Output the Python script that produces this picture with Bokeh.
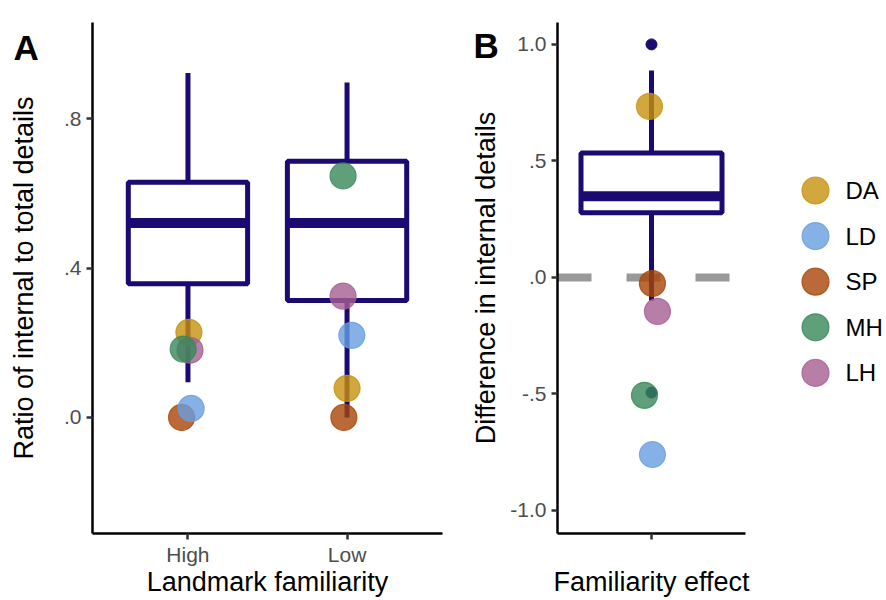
import math
from bokeh.plotting import figure
from bokeh.models import Range1d, FixedTicker, Span, ColumnDataSource, CustomJSTickFormatter
from bokeh.layouts import row
from bokeh.embed import file_html
from bokeh.resources import INLINE
from bokeh.core.properties import value

# ---------------- data ----------------
subjects = ["DA", "LD", "SP", "MH", "LH"]
subject_colors = ["#C7910E", "#689DE0", "#A74506", "#378859", "#A55E92"]
draw_order = ["DA", "LH", "SP", "LD", "MH"]

familiarity = ["High", "Low"]
ratio_high = [0.228, 0.024, 0.000, 0.183, 0.180]
ratio_low = [0.078, 0.220, 0.000, 0.647, 0.325]
jitter_high = [0.006, 0.020, -0.040, -0.030, 0.013]
jitter_low = [0.000, 0.030, -0.020, -0.025, -0.025]

box_whisker_lo = [0.094, 0.000]
box_q1 = [0.358, 0.313]
box_median = [0.521, 0.521]
box_q3 = [0.630, 0.686]
box_whisker_hi = [0.923, 0.897]

diff_values = [0.734, -0.760, -0.026, -0.506, -0.146]
jitter_diff = [-0.013, 0.006, 0.006, -0.045, 0.038]
diff_whisker_lo = [-0.100]
diff_q1 = [0.277]
diff_median = [0.348]
diff_q3 = [0.534]
diff_whisker_hi = [0.888]
diff_outliers = [1.000, -0.494]

ratio_ticks = [0.0, 0.4, 0.8]
diff_ticks = [-1.0, -0.5, 0.0, 0.5, 1.0]

panel_tags = ["A", "B"]
y_titles = ["Ratio of internal to total details", "Difference in internal details"]
x_titles = ["Landmark familiarity", "Familiarity effect"]

NAVY = "#1A0A72"
FONT = "Liberation Sans"
PT_ALPHA = 0.8
H = 600
TOP, BOTTOM = 22, 67          # frame spans page y 22 .. 533
FR_TOP, FR_BOT = TOP, H - BOTTOM

fmt = CustomJSTickFormatter(code="""
let s = tick.toFixed(1);
return s.replace(/^(-?)0\\./, '$1.');
""")


def style(p):
    p.outline_line_color = None
    p.xgrid.visible = False
    p.ygrid.visible = False
    p.background_fill_color = "white"
    p.border_fill_color = "white"
    for ax in (p.xaxis[0], p.yaxis[0]):
        ax.axis_line_color = "black"
        ax.axis_line_width = 2.5
        ax.major_tick_line_color = "#333333"
        ax.major_tick_line_width = 2.5
        ax.major_tick_out = 6
        ax.major_tick_in = 0
        ax.minor_tick_line_color = None
        ax.major_label_text_font = FONT
        ax.major_label_text_font_size = "21px"
        ax.major_label_text_color = "#4D4D4D"
        ax.major_label_standoff = 5
        ax.axis_label_text_font = FONT
        ax.axis_label_text_font_size = "27px"
        ax.axis_label_text_font_style = "normal"
        ax.axis_label_text_color = "black"
    p.xaxis[0].major_label_standoff = 3
    p.xaxis[0].axis_label_standoff = -2


def blank(width, x0):
    p = figure(width=width, height=H, x_range=Range1d(x0, x0 + width), y_range=Range1d(FR_BOT, FR_TOP),
               output_backend="svg", toolbar_location=None, x_axis_type=None, y_axis_type=None,
               min_border_left=0, min_border_right=0, min_border_top=TOP, min_border_bottom=BOTTOM)
    p.outline_line_color = None
    p.xgrid.visible = False
    p.ygrid.visible = False
    p.background_fill_color = "white"
    p.border_fill_color = "white"
    return p


def gutter(width, x0, tag, tag_x, tag_y, title, title_x):
    g = blank(width, x0)
    g.text(x=[tag_x], y=[tag_y], text=[tag], text_font=value(FONT), text_font_size=value("35px"),
           text_font_style="bold", text_baseline="alphabetic", text_align="left", text_color="black")
    g.text(x=[title_x], y=[(FR_TOP + FR_BOT) / 2], text=[title], angle=math.pi / 2,
           text_font=value(FONT), text_font_size=value("27px"), text_baseline="middle",
           text_align="center", text_color="black")
    return g


def draw_box(p, xs, lo, q1, med, q3, hi, width):
    src = ColumnDataSource(dict(
        x=xs, lo=lo, q1=q1, med=med, q3=q3, hi=hi,
        left=[x - width / 2 for x in xs], right=[x + width / 2 for x in xs]))
    p.segment(x0="x", y0="q3", x1="x", y1="hi", source=src, line_color=NAVY, line_width=5)
    p.segment(x0="x", y0="q1", x1="x", y1="lo", source=src, line_color=NAVY, line_width=5)
    p.quad(left="left", right="right", bottom="q1", top="q3", source=src,
           fill_color="white", line_color=NAVY, line_width=5)
    p.segment(x0="left", y0="med", x1="right", y1="med", source=src, line_color=NAVY, line_width=10)


def draw_points(p, xs, ys):
    idx = [subjects.index(s) for s in draw_order]
    src = ColumnDataSource(dict(
        x=[xs[i] for i in idx], y=[ys[i] for i in idx],
        c=[subject_colors[i] for i in idx]))
    p.scatter(x="x", y="y", source=src, size=26, fill_color="c", fill_alpha=PT_ALPHA,
              line_color="c", line_alpha=PT_ALPHA, line_width=1.2)


# ---------------- gutter A (tag + y title) ----------------
gA = gutter(46, 0, panel_tags[0], 13, 47, y_titles[0], 23)

# ---------------- panel A ----------------
pA = figure(width=416, height=H, x_range=Range1d(0.4, 2.6), y_range=Range1d(-0.311, 1.058),
            output_backend="svg", toolbar_location=None,
            min_border_left=46, min_border_right=20, min_border_top=TOP, min_border_bottom=BOTTOM)
style(pA)
cat_x = [i + 1 for i in range(len(familiarity))]
pA.xaxis.ticker = FixedTicker(ticks=cat_x)
pA.xaxis.major_label_overrides = {x: f for x, f in zip(cat_x, familiarity)}
pA.yaxis.ticker = FixedTicker(ticks=ratio_ticks)
pA.yaxis.formatter = fmt
pA.xaxis.axis_label = x_titles[0]

draw_box(pA, cat_x, box_whisker_lo, box_q1, box_median, box_q3, box_whisker_hi, 0.75)
draw_points(pA, [cat_x[0] + j for j in jitter_high], ratio_high)
draw_points(pA, [cat_x[1] + j for j in jitter_low], ratio_low)

# ---------------- gutter B ----------------
gB = gutter(43, 462, panel_tags[1], 473, 45, y_titles[1], 485)

# ---------------- panel B ----------------
pB = figure(width=245, height=H, x_range=Range1d(0.4, 1.6), y_range=Range1d(-1.099, 1.094),
            output_backend="svg", toolbar_location=None,
            min_border_left=52, min_border_right=5, min_border_top=TOP, min_border_bottom=BOTTOM)
style(pB)
pB.xaxis.ticker = FixedTicker(ticks=[1])
pB.xaxis.major_label_overrides = {1: " "}
pB.yaxis.ticker = FixedTicker(ticks=diff_ticks)
pB.yaxis.formatter = fmt
pB.xaxis.axis_label = x_titles[1]

pB.add_layout(Span(location=0, dimension="width", line_color="#999999", line_width=8,
                   line_dash="34 35", level="underlay"))
draw_box(pB, [1], diff_whisker_lo, diff_q1, diff_median, diff_q3, diff_whisker_hi, 0.9)
pB.scatter(x=[1] * len(diff_outliers), y=diff_outliers, size=11, fill_color=NAVY, line_color=NAVY)
draw_points(pB, [1 + j for j in jitter_diff], diff_values)

# ---------------- legend ----------------
pL = blank(136, 750)
leg_y = [190 + 45.6 * i for i in range(len(subjects))]
pL.scatter(x=[815] * len(subjects), y=leg_y, size=27, fill_color=subject_colors, fill_alpha=PT_ALPHA,
           line_color=subject_colors, line_alpha=PT_ALPHA, line_width=1.2)
pL.text(x=[845] * len(subjects), y=leg_y, text=subjects, text_font=value(FONT),
        text_font_size=value("24px"), text_baseline="middle", text_align="left", text_color="black")

layout = row(gA, pA, gB, pB, pL)
open("out.html", "w").write(file_html(layout, INLINE))
